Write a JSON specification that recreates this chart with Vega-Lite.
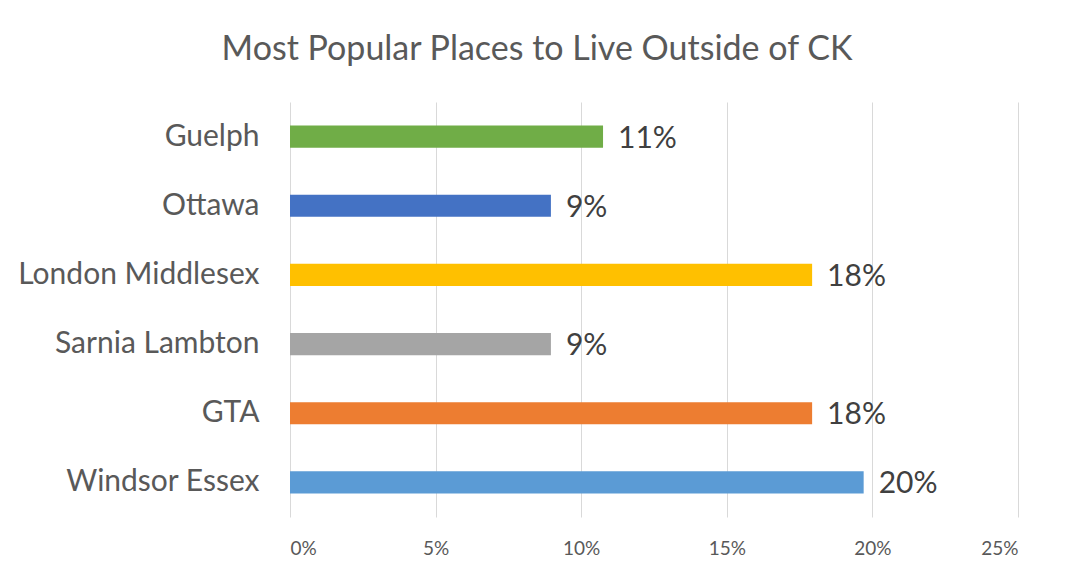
{
  "$schema": "https://vega.github.io/schema/vega-lite/v6.json",
  "width": 728,
  "height": 415,
  "autosize": {"type": "none"},
  "padding": {"left": 290, "top": 102, "right": 49, "bottom": 61},
  "background": "white",
  "title": {
    "text": "Most Popular Places to Live Outside of CK",
    "font": "Lato",
    "fontSize": 34,
    "fontWeight": "normal",
    "color": "#595959",
    "anchor": "middle",
    "dx": -117,
    "baseline": "alphabetic",
    "offset": 8
  },
  "data": {
    "values": [
      {"place": "Guelph", "share": 0.1075},
      {"place": "Ottawa", "share": 0.0896},
      {"place": "London Middlesex", "share": 0.1793},
      {"place": "Sarnia Lambton", "share": 0.0896},
      {"place": "GTA", "share": 0.1793},
      {"place": "Windsor Essex", "share": 0.197}
    ]
  },
  "encoding": {
    "y": {
      "field": "place",
      "type": "nominal",
      "sort": null,
      "scale": {"paddingInner": 0.68, "paddingOuter": 0.34},
      "axis": {
        "title": null,
        "domain": false,
        "ticks": false,
        "grid": false,
        "labelFont": "Lato",
        "labelFontSize": 30,
        "labelColor": "#595959",
        "labelPadding": 31,
        "labelLimit": 0
      }
    },
    "x": {
      "field": "share",
      "type": "quantitative",
      "scale": {"domain": [0, 0.25], "nice": false},
      "axis": {
        "title": null,
        "format": ".0%",
        "values": [0, 0.05, 0.1, 0.15, 0.2, 0.25],
        "domain": false,
        "ticks": false,
        "grid": true,
        "gridColor": "#D9D9D9",
        "gridWidth": 1,
        "labelFont": "Lato",
        "labelFontSize": 19,
        "labelColor": "#595959",
        "labelPadding": 22
      }
    }
  },
  "layer": [
    {
      "mark": {"type": "bar"},
      "encoding": {
        "color": {
          "field": "place",
          "type": "nominal",
          "legend": null,
          "scale": {
            "domain": ["Guelph", "Ottawa", "London Middlesex", "Sarnia Lambton", "GTA", "Windsor Essex"],
            "range": ["#70AD47", "#4472C4", "#FFC000", "#A5A5A5", "#ED7D31", "#5B9BD5"]
          }
        }
      }
    },
    {
      "mark": {"type": "text", "align": "left", "baseline": "middle", "dx": 15, "dy": 2, "font": "Lato", "fontSize": 30, "color": "#404040"},
      "encoding": {
        "text": {"field": "share", "type": "quantitative", "format": ".0%"}
      }
    }
  ],
  "config": {
    "view": {"stroke": null}
  }
}
